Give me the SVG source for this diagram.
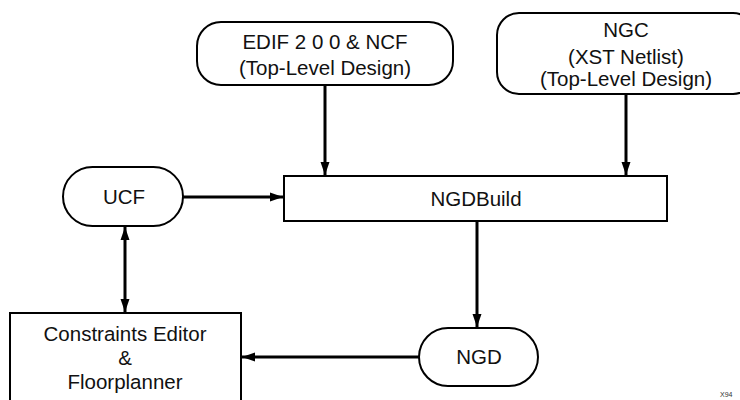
<svg xmlns="http://www.w3.org/2000/svg" width="740" height="400" viewBox="0 0 740 400">
<style>
.box{fill:#fff;stroke:#000;stroke-width:2}
.t{font-family:"Liberation Sans",Arial,sans-serif;font-size:20.5px;fill:#111;text-anchor:middle}
.c{fill:none;stroke:#000;stroke-width:3}
.s{font-family:"Liberation Sans",Arial,sans-serif;font-size:7px;fill:#333}
</style>
<defs>
<marker id="ah" markerUnits="userSpaceOnUse" markerWidth="14" markerHeight="10" refX="13" refY="5" orient="auto">
<path d="M0,0.5 L13,5 L0,9.5 Z" fill="#000"/>
</marker>
<marker id="as" markerUnits="userSpaceOnUse" markerWidth="14" markerHeight="10" refX="0" refY="5" orient="auto">
<path d="M13,0.5 L0,5 L13,9.5 Z" fill="#000"/>
</marker>
</defs>
<rect width="740" height="400" fill="#fff"/>
<g id="connectors">
<line class="c" x1="325" y1="85" x2="325" y2="175" marker-end="url(#ah)"/>
<line class="c" x1="626" y1="93" x2="626" y2="175" marker-end="url(#ah)"/>
<line class="c" x1="183" y1="197" x2="283" y2="197" marker-end="url(#ah)"/>
<line class="c" x1="477" y1="221" x2="477" y2="327" marker-end="url(#ah)"/>
<line class="c" x1="419" y1="357" x2="242" y2="357" marker-end="url(#ah)"/>
<line class="c" x1="125" y1="227" x2="125" y2="312" marker-start="url(#as)" marker-end="url(#ah)"/>
</g>
<g id="edif">
<rect class="box" x="197" y="22" width="256" height="63" rx="24" ry="24"/>
<text class="t" x="325" y="49">EDIF 2 0 0 &amp; NCF</text>
<text class="t" x="325" y="75">(Top-Level Design)</text>
</g>
<g id="ngc">
<rect class="box" x="497" y="13" width="258" height="81" rx="22" ry="22"/>
<text class="t" x="626" y="37">NGC</text>
<text class="t" x="626" y="64">(XST Netlist)</text>
<text class="t" x="626" y="86">(Top-Level Design)</text>
</g>
<g id="ucf">
<rect class="box" x="63" y="167" width="120" height="59" rx="29.5" ry="29.5"/>
<text class="t" x="124" y="204">UCF</text>
</g>
<g id="ngdbuild">
<rect class="box" x="284" y="176" width="383" height="45"/>
<text class="t" x="476" y="206">NGDBuild</text>
</g>
<g id="ngd">
<rect class="box" x="419" y="328" width="119" height="58" rx="29" ry="29"/>
<text class="t" x="479" y="364">NGD</text>
</g>
<g id="constraints">
<rect class="box" x="10" y="313" width="231" height="100"/>
<text class="t" x="125" y="341">Constraints Editor</text>
<text class="t" x="125" y="365">&amp;</text>
<text class="t" x="125" y="389">Floorplanner</text>
</g>
<text class="s" x="720" y="397">X94</text>
</svg>
